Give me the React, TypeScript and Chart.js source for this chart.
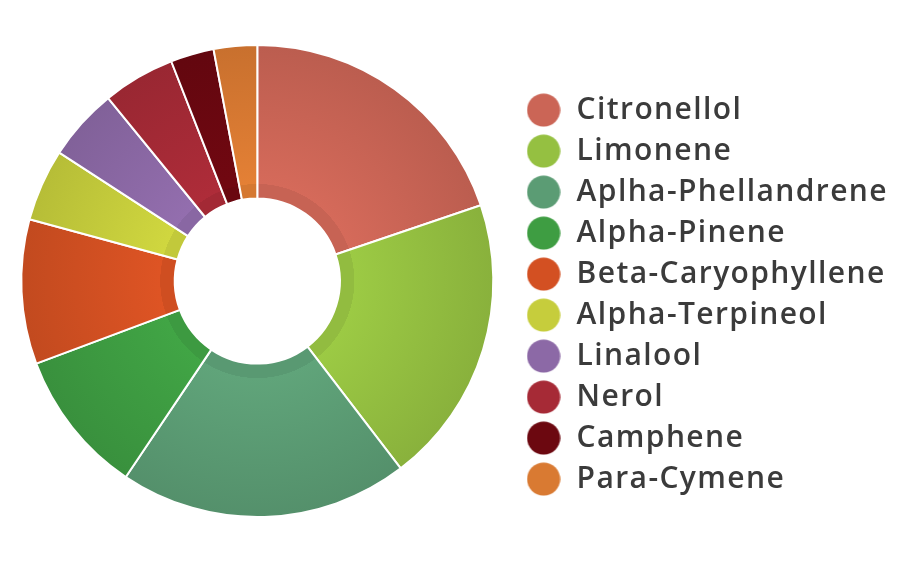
import React, { useEffect, useRef } from 'react';
import { Chart, registerables } from 'chart.js';

Chart.register(...registerables);

const labels = [
  'Citronellol',
  'Limonene',
  'Aplha-Phellandrene',
  'Alpha-Pinene',
  'Beta-Caryophyllene',
  'Alpha-Terpineol',
  'Linalool',
  'Nerol',
  'Camphene',
  'Para-Cymene',
];
const values = [20, 20, 20, 10, 10, 5, 5, 5, 3, 3];
const colors = [
  '#CB6556', '#95C041', '#5B9C74', '#3E9D42', '#D35022',
  '#C6CD3C', '#8C69A6', '#A62A36', '#6C0810', '#D97A32',
];

const CUTOUT = 0.35;

// scale a hex colour's channels by f
const shade = (hex: string, f: number) => {
  const n = parseInt(hex.slice(1), 16);
  const ch = [(n >> 16) & 255, (n >> 8) & 255, n & 255].map(v => Math.max(0, Math.min(255, Math.round(v * f))));
  return `rgb(${ch[0]}, ${ch[1]}, ${ch[2]})`;
};

// small round swatch for the legend
const swatch = (color: string) => {
  const c = document.createElement('canvas');
  c.width = 34;
  c.height = 34;
  const g = c.getContext('2d')!;
  g.fillStyle = color;
  g.beginPath();
  g.arc(17, 17, 16.6, 0, Math.PI * 2);
  g.fill();
  return c;
};

// wider legend lettering, closer to the original's geometric face
const spacing = {
  id: 'spacing',
  beforeLayout: (chart: Chart) => { (chart.ctx as any).letterSpacing = '1.4px'; },
  beforeDraw: (chart: Chart) => { (chart.ctx as any).letterSpacing = '1.4px'; },
};

const App: React.FC = () => {
  const canvasRef = useRef<HTMLCanvasElement>(null);
  const chartRef = useRef<Chart | null>(null);

  useEffect(() => {
    if (!canvasRef.current) return;
    if (chartRef.current) chartRef.current.destroy();

    const swatches = colors.map(swatch);

    chartRef.current = new Chart(canvasRef.current, {
      type: 'doughnut',
      data: {
        labels,
        datasets: [
          {
            data: values,
            backgroundColor: (ctx: any) => {
              const base = colors[ctx.dataIndex];
              const area = ctx.chart.chartArea;
              if (!area) return base;
              const cx = (area.left + area.right) / 2;
              const cy = (area.top + area.bottom) / 2;
              const outer = Math.min(area.right - area.left, area.bottom - area.top) / 2;
              const inner = outer * CUTOUT;
              const g = ctx.chart.ctx.createRadialGradient(cx, cy, inner, cx, cy, outer);
              const ring = 14 / (outer - inner);
              g.addColorStop(0, shade(base, 0.98));
              g.addColorStop(ring, shade(base, 0.98));
              g.addColorStop(ring + 0.001, shade(base, 1.05));
              g.addColorStop(1, shade(base, 0.92));
              return g;
            },
            borderColor: '#ffffff',
            borderWidth: 2,
          },
        ],
      },
      options: {
        responsive: true,
        maintainAspectRatio: false,
        animation: false,
        cutout: `${CUTOUT * 100}%`,
        layout: {
          padding: { top: 44, bottom: 55, left: -4, right: 2 },
        },
        plugins: {
          tooltip: { enabled: false },
          legend: {
            position: 'right',
            align: 'center',
            title: {
              display: true,
              text: ' ',
              font: { size: 6 },
              padding: 10,
            },
            labels: {
              usePointStyle: true,
              pointStyleWidth: 36,
              padding: 11,
              color: '#3b3b3b',
              font: { family: '"Open Sans", sans-serif', size: 30, weight: 600 },
              generateLabels: (chart: Chart) => {
                const items = (Chart as any).overrides.doughnut.plugins.legend.labels.generateLabels(chart);
                return items.map((item: any, i: number) => ({
                  ...item,
                  fillStyle: colors[i],
                  strokeStyle: colors[i],
                  pointStyle: swatches[i],
                }));
              },
            },
          },
        },
      },
      plugins: [spacing],
    });

    return () => {
      if (chartRef.current) {
        chartRef.current.destroy();
        chartRef.current = null;
      }
    };
  }, []);

  return (
    <div style={{ position: 'fixed', left: 0, top: 0, width: 900, height: 573, background: '#ffffff' }}>
      <canvas ref={canvasRef}></canvas>
    </div>
  );
};

export default App;
